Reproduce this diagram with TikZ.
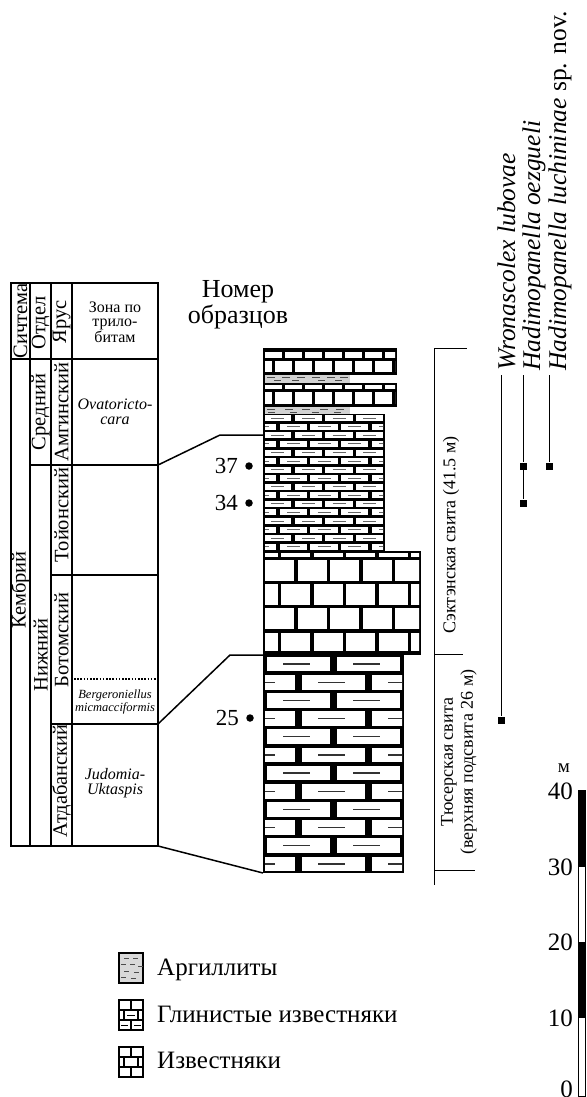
\documentclass[tikz,border=0pt]{standalone}
\usepackage{fontspec}
\setmainfont{Liberation Serif}
\newcommand{\myfs}[2]{\fontsize{#1}{#2}\selectfont}
\def\bvm{3}\def\bhm{3}\def\bdash{0}\def\dA{0}\def\dB{0}
\newcommand{\brow}[6]{%
 \begin{scope}
 \clip (#1,#3) rectangle (#2,#4);
 \pgfmathsetmacro\bstart{#5-#6*ceil((#5-#1)/#6)}
 \pgfmathsetmacro\bya{#3+\bhm/2}
 \pgfmathsetmacro\byb{#4-\bhm/2}
 \pgfmathsetmacro\bym{(#3+#4)/2}
 \foreach \k in {0,...,9} {
   \pgfmathsetmacro\bxa{\bstart+\k*#6+\bvm/2}
   \pgfmathsetmacro\bxb{\bstart+(\k+1)*#6-\bvm/2}
   \fill[white] (\bxa,\bya) rectangle (\bxb,\byb);
   \ifnum\bdash=1
     \draw[dashline] ({\bstart+\k*#6+\dA},\bym) -- ({\bstart+\k*#6+\dB},\bym);
   \fi
 }
 \end{scope}}
\tikzset{
 tbl/.style={line width=1.7pt},
 conn/.style={line width=1.5pt},
 rot/.style={rotate=90, inner sep=0pt, font=\myfs{20.5}{22}},
 zone/.style={align=center, inner sep=0pt, font=\myfs{16}{15}\itshape},
 sample/.style={anchor=east, inner sep=0pt, font=\myfs{23}{25}},
 dotm/.style={circle, fill=black, inner sep=0pt, minimum size=7.5pt},
 sq/.style={rectangle, fill=black, inner sep=0pt, minimum size=7pt},
 taxon/.style={rotate=90, anchor=base west, inner sep=0pt, font=\myfs{25.5}{27}},
 bracket/.style={line width=0.8pt},
 taxline/.style={line width=1pt},
 legtxt/.style={anchor=base west, inner sep=0pt, font=\myfs{25}{27}},
 scl/.style={anchor=east, inner sep=0pt, font=\myfs{25}{27}},
 dashline/.style={line width=1.2pt, black!75},
 argdash/.style={line width=0.9pt, black!70},
}
\begin{document}
\begin{tikzpicture}[x=1pt,y=-1pt,line join=miter]
\useasboundingbox (0,0) rectangle (586,1097);

% ---------------- stratigraphic table ----------------
\draw[tbl] (11,283) rectangle (158,846);
\draw[tbl] (30,283) -- (30,846);
\draw[tbl] (51,283) -- (51,846);
\draw[tbl] (72,283) -- (72,846);
\draw[tbl] (11,359) -- (158,359);
\draw[tbl] (30,465) -- (158,465);
\draw[tbl] (51,575) -- (158,575);
\draw[tbl] (51,724) -- (158,724);
\draw[line width=1.6pt, dash pattern=on 1.6pt off 1.6pt] (74,679) -- (156,679);

\node[rot] (hs) at (20.5,321) {Сичтема};
\node[rot] (ho) at (40.5,323) {Отдел};
\node[rot] (hy) at (61.5,322) {Ярус};
\node[align=center, inner sep=0pt, font=\myfs{16}{14.5}] (hz) at (115,322) {Зона по\\трило-\\битам};

\node[rot] (kem) at (20.5,590) {Кембрий};
\node[rot] (sred) at (40.5,412) {Средний};
\node[rot] (nizh) at (40.5,655) {Нижний};
\node[rot] (amg) at (61.5,412) {Амгинский};
\node[rot] (toy) at (61.5,515) {Тойонский};
\node[rot] (bot) at (61.5,640) {Ботомский};
\node[rot] (atd) at (61.5,781) {Атдабанский};

\node[zone] (ova) at (115,412) {Ovatoricto-\\cara};
\node[zone, font=\myfs{12.5}{11}\itshape] (berg) at (115,702) {Bergeroniellus\\micmacciformis};
\node[zone] (jud) at (115,783) {Judomia-\\Uktaspis};

% ---------------- column ----------------
\fill (263,348) rectangle (397,375);
\def\bvm{3}\def\bhm{3}\def\bdash{0}
\brow{265}{395}{350}{359}{283}{20}
\brow{265}{395}{359}{373}{273}{20}
\fill[gray!35] (263,375) rectangle (350,383);
\foreach \xx in {267,282,297,312,327,340} \draw[argdash] (\xx,377.5) -- ++(8,0);
\foreach \xx in {274,292,318,335} \draw[argdash] (\xx,380.8) -- ++(7,0);
\fill (263,383) rectangle (397,407);
\brow{265}{395}{383}{390}{283}{20}
\brow{265}{395}{390}{405}{273}{20}
\fill[gray!35] (263,407) rectangle (350,414);
\foreach \xx in {267,285,302,320,336} \draw[argdash] (\xx,409) -- ++(8,0);
\foreach \xx in {268,290,312,334} \draw[argdash] (\xx,412) -- ++(7,0);
\draw[line width=2pt] (264,375) -- (264,383) (264,407) -- (264,414);
\fill (263,414) rectangle (385,551);
\def\bvm{3.5}\def\bhm{2.6}\def\bdash{1}\def\dA{9}\def\dB{22}
\tikzset{dashline/.style={line width=1pt, black!60}}
\foreach \i in {0,...,15} {
  \pgfmathsetmacro\ry{414+\i*137/16}
  \pgfmathsetmacro\ryy{414+(\i+1)*137/16}
  \pgfmathsetmacro\rj{293-15*mod(\i,2)}
  \brow{265}{383}{\ry}{\ryy}{\rj}{30.7}
}
\fill (263,551) rectangle (421,655);
\def\bvm{3.5}\def\bhm{3.5}\def\bdash{0}
\brow{265}{419}{551}{558.5}{279.5}{32.5}
\brow{265}{419}{558.5}{582.6}{296}{32.5}
\brow{265}{419}{582.6}{606.7}{279.5}{32.5}
\brow{265}{419}{606.7}{630.9}{296}{32.5}
\brow{265}{419}{630.9}{653}{279.5}{32.5}
\fill (263,655) rectangle (404,873);
\def\bvm{7}\def\bhm{3.5}\def\bdash{1}\def\dA{20}\def\dB{47}
\tikzset{dashline/.style={line width=1.4pt, black!80}}
\foreach \i in {0,...,11} {
  \pgfmathsetmacro\ry{655+\i*218/12}
  \pgfmathsetmacro\ryy{655+(\i+1)*218/12}
  \pgfmathsetmacro\rj{333-35*mod(\i,2)}
  \brow{265}{402}{\ry}{\ryy}{\rj}{70}
}
\fill (263,871) rectangle (404,873);

% ---------------- correlation lines ----------------
\coordinate (t1) at (158,465); \coordinate (k1) at (220,435); \coordinate (c1) at (263,435);
\coordinate (t2) at (158,724); \coordinate (k2) at (230,655); \coordinate (c2) at (263,655);
\coordinate (t3) at (158,846); \coordinate (c3) at (263,873);
\draw[conn] (t1) -- (k1) -- (c1);
\draw[conn] (t2) -- (k2) -- (c2);
\draw[conn] (t3) -- (c3);

% ---------------- samples ----------------
\node[align=center, inner sep=0pt, font=\myfs{26}{26}] (nomer) at (238,305) {Номер\\образцов};
\node[dotm] (d37) at (249,466) {};
\node[sample] (n37) at (238,466) {37};
\node[dotm] (d34) at (249,503) {};
\node[sample] (n34) at (238,503) {34};
\node[dotm] (d25) at (250,718) {};
\node[sample] (n25) at (239,718) {25};

% ---------------- formations ----------------
\coordinate (bt) at (434,348); \coordinate (bb) at (434,885);
\coordinate (tk1) at (467,348); \coordinate (tk1a) at (434,348);
\coordinate (tk2a) at (434,654); \coordinate (tk2) at (463,654);
\coordinate (tk3a) at (434,870); \coordinate (tk3) at (475,870);
\draw[bracket] (bt) -- (bb);
\draw[bracket] (tk1a) -- (tk1);
\draw[bracket] (tk2a) -- (tk2);
\draw[bracket] (tk3a) -- (tk3);
\node[rotate=90, inner sep=0pt, font=\myfs{18}{20}] (sekt) at (451,535) {Сэктэнская свита (41.5 м)};
\node[rotate=90, align=center, inner sep=0pt, font=\myfs{18}{20}] (tus) at (459,762) {Тюсерская свита\\(верхняя подсвита 26 м)};

% ---------------- taxa ----------------
\node[taxon] (tw) at (515,371) {\itshape Wronascolex lubovae};
\node[taxon] (to) at (540,371) {\itshape Hadimopanella oezgueli};
\node[taxon] (tl) at (566,371) {\itshape Hadimopanella luchininae\upshape{} sp. nov.};
\coordinate (twb) at (501,375);
\coordinate (tob) at (523,375);
\coordinate (tlb) at (549,375);
\node[sq] (sw) at (501,720) {};
\node[sq] (so1) at (523,466) {};
\node[sq] (so2) at (523,503) {};
\node[sq] (sl) at (549,466) {};
\draw[taxline] (twb) -- (sw);
\draw[taxline] (tob) -- (so1) -- (so2);
\draw[taxline] (tlb) -- (sl);

% ---------------- scale ----------------
\draw[line width=0.8pt] (578.5,790) rectangle (585,1096);
\fill (578.5,790) rectangle (585,867);
\fill (578.5,942) rectangle (585,1018);
\node[inner sep=0pt, font=\myfs{19}{20}] (mm) at (564,768) {м};
\node[scl] (s40) at (573,791) {40};
\node[scl] (s30) at (573,867) {30};
\node[scl] (s20) at (573,942) {20};
\node[scl] (s10) at (573,1018) {10};
\node[scl, anchor=base east] (s0) at (573,1097) {0};

% ---------------- legend ----------------
\draw[line width=1.3pt, fill=gray!30] (119,953) rectangle (143,983);
\foreach \xx/\yy in {124/958,133/958,121/964,130/964,138/966,124/971,134/972,121/977,131/978} \draw[argdash] (\xx,\yy) -- ++(5,0);
\draw[line width=1.3pt] (119,1000) rectangle (143,1030);
\draw[line width=1.1pt] (119,1010) -- (143,1010) (119,1020) -- (143,1020)
  (131,1000) -- (131,1010) (124,1010) -- (124,1020) (138,1010) -- (138,1020) (131,1020) -- (131,1030);
\draw[line width=0.9pt] (127,1015) -- (135,1015) (121,1025) -- (128,1025) (134,1025) -- (141,1025);
\draw[line width=1.3pt] (119,1047) rectangle (143,1077);
\draw[line width=1.1pt] (119,1057) -- (143,1057) (119,1067) -- (143,1067)
  (131,1047) -- (131,1057) (124,1057) -- (124,1067) (138,1057) -- (138,1067) (131,1067) -- (131,1077);
\node[legtxt] (la) at (157,975) {Аргиллиты};
\node[legtxt] (lg) at (157,1022) {Глинистые известняки};
\node[legtxt] (li) at (157,1068) {Известняки};
\end{tikzpicture}
\end{document}
